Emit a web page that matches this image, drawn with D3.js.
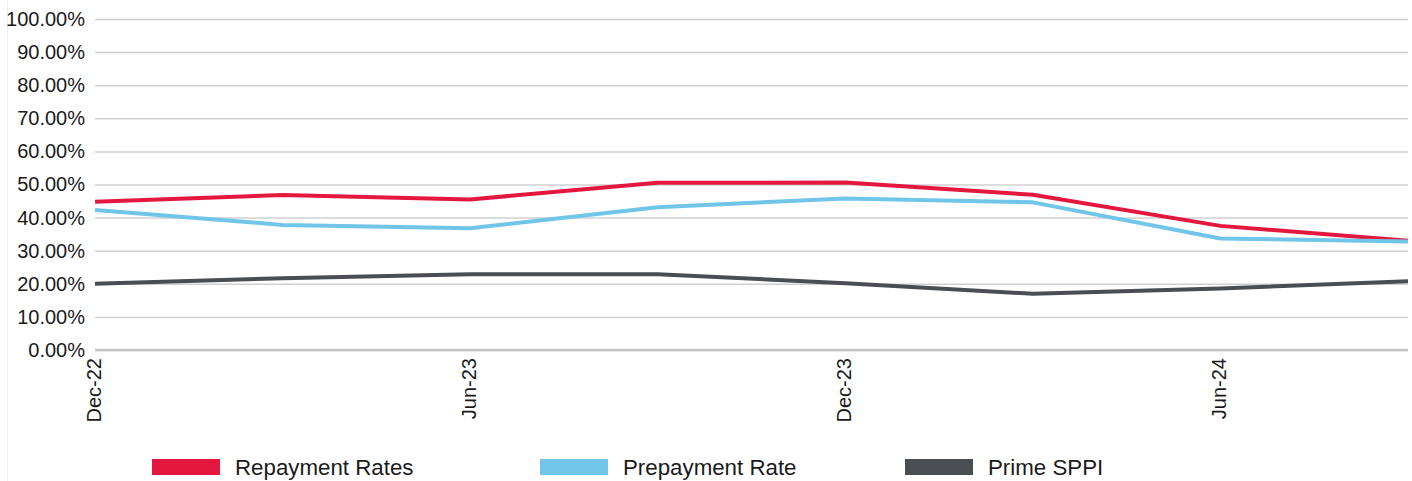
<!DOCTYPE html>
<html>
<head>
<meta charset="utf-8">
<script src="https://cdn.jsdelivr.net/npm/d3@7"></script>
<style>
  html, body { margin: 0; padding: 0; background: #fff; }
  svg { display: block; }
  text { font-family: "Liberation Sans", Arial, sans-serif; fill: #1a1a1a; }
</style>
</head>
<body>
<svg id="chart" width="1412" height="481"></svg>
<script>
const categories = ["Dec-22", "Mar-23", "Jun-23", "Sep-23", "Dec-23", "Mar-24", "Jun-24", "Sep-24"];
const tickLabels = ["Dec-22", "Jun-23", "Dec-23", "Jun-24"];
const repaymentRates = [44.8, 46.8, 45.5, 50.5, 50.6, 46.9, 37.5, 33.0];
const prepaymentRate = [42.3, 37.8, 36.8, 43.1, 45.8, 44.6, 33.7, 32.8];
const primeSPPI = [20.0, 21.7, 22.9, 22.9, 20.2, 17.0, 18.6, 20.8];
const yTicks = [0, 10, 20, 30, 40, 50, 60, 70, 80, 90, 100];

const series = [
  { name: "Repayment Rates", values: repaymentRates, color: "#e4183f" },
  { name: "Prepayment Rate", values: prepaymentRate, color: "#71c5e8" },
  { name: "Prime SPPI", values: primeSPPI, color: "#4a4e52" }
];

const svg = d3.select("#chart");
const plotLeft = 95, plotRight = 1408, plotTop = 19, plotBottom = 350;

const x = d3.scalePoint().domain(categories).range([plotLeft, plotRight]);
const y = d3.scaleLinear().domain([0, 100]).range([plotBottom, plotTop]);

// faint left border
svg.append("line").attr("x1", 7.5).attr("x2", 7.5).attr("y1", 0).attr("y2", 481)
  .attr("stroke", "#efefef").attr("stroke-width", 1);

// y axis with gridlines
const yAxis = d3.axisLeft(y).tickValues(yTicks)
  .tickSize(-(plotRight - plotLeft)).tickPadding(10)
  .tickFormat(d => d.toFixed(2) + "%");
const gy = svg.append("g").attr("transform", `translate(${plotLeft},0)`).call(yAxis);
gy.select(".domain").remove();
gy.selectAll(".tick line").attr("stroke", "#d0d0d0").attr("stroke-width", 1.5);
gy.selectAll(".tick text").attr("font-size", 20).attr("fill", "#1a1a1a")
  .attr("x", -10);

// baseline
svg.append("line").attr("x1", plotLeft).attr("x2", plotRight).attr("y1", y(0)).attr("y2", y(0))
  .attr("stroke", "#c6c6c6").attr("stroke-width", 2.5);

// x axis labels
const xAxis = d3.axisBottom(x).tickValues(tickLabels).tickSize(0).tickPadding(0);
const gx = svg.append("g").attr("transform", `translate(0,${plotBottom})`).call(xAxis);
gx.select(".domain").remove();
gx.selectAll(".tick text")
  .attr("font-size", 20).attr("fill", "#1a1a1a")
  .attr("transform", "rotate(-90)")
  .attr("text-anchor", "end")
  .attr("x", -8).attr("y", -2).attr("dy", "0.35em");

// lines
const line = d3.line().x((d, i) => x(categories[i])).y(d => y(d));
series.forEach(s => {
  svg.append("path").datum(s.values)
    .attr("fill", "none").attr("stroke", s.color)
    .attr("stroke-width", 4).attr("stroke-linejoin", "round")
    .attr("d", line);
});

// legend
const legendX = [152, 540, 905];
series.forEach((s, i) => {
  const g = svg.append("g").attr("transform", `translate(${legendX[i]},459)`);
  g.append("rect").attr("width", 68).attr("height", 16).attr("fill", s.color);
  g.append("text").attr("x", 83).attr("y", 8).attr("dy", "0.36em")
    .attr("font-size", 22.3).text(s.name);
});
</script>
</body>
</html>
